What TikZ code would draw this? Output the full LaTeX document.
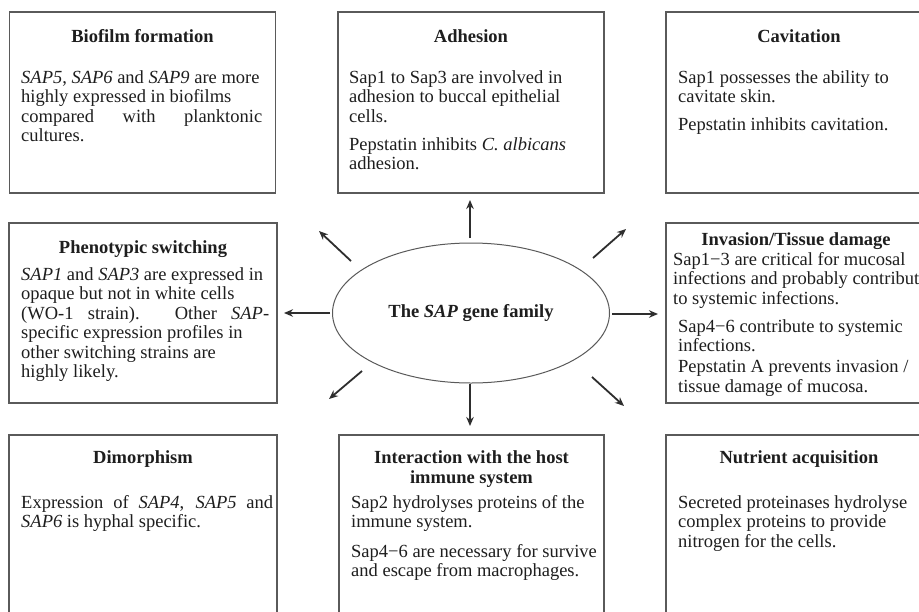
\documentclass[tikz,border=0pt]{standalone}
\usepackage{fontspec}
\setmainfont{Liberation Serif}
\usetikzlibrary{arrows.meta,shapes.geometric}
\definecolor{boxgray}{HTML}{5A5A5A}
\definecolor{arrgray}{HTML}{2E2E2E}
\definecolor{txt}{HTML}{1E1E1E}
\tikzset{
  box/.style={draw=boxgray, line width=1.6pt, rectangle, inner sep=0pt, minimum width=266pt, minimum height=181pt},
  ttl/.style={font=\fontsize{18.5}{19.5}\selectfont\bfseries, text=txt, anchor=base, inner sep=0pt},
  bodytxt/.style={font=\fontsize{18.5}{19.5}\selectfont, text=txt, anchor=north west, inner sep=0pt, align=left},
  arr/.style={-{Stealth[length=9pt,width=7.5pt]}, line width=1.8pt, draw=arrgray},
}
\begin{document}
\begin{tikzpicture}[x=1pt,y=-1pt]
\useasboundingbox (0,0) rectangle (919,611);
\clip (0,0) rectangle (919,611);
\fill[white] (0,0) rectangle (919,611);

% boxes
\node[box] (b1) at (142.5,102.5) {};
\node[box] (b2) at (471,102.5) {};
\node[box] (b3) at (799,102.5) {};
\node[box, minimum width=268pt, minimum height=180pt] (b4) at (143,313) {};
\node[box, minimum height=180pt] (b6) at (799,313) {};
\node[box, minimum width=268pt] (b7) at (143,525.5) {};
\node[box, minimum width=265pt] (b8) at (471.5,525.5) {};
\node[box] (b9) at (799,525.5) {};

% ellipse
\node[ellipse, draw=boxgray, line width=1pt, minimum width=277pt, minimum height=140pt, inner sep=0pt,
      font=\fontsize{18.5}{19.5}\selectfont\bfseries, text=txt] (ell) at (471,313) {The \textit{SAP} gene family};

% Biofilm
\node[ttl] (t1) at (142.5,42) {Biofilm formation};
\node[bodytxt] (x1) at (21,69.35) {\strut\textit{SAP5}, \textit{SAP6} and \textit{SAP9} are more\\
highly expressed in biofilms\\
\makebox[241pt][s]{compared with planktonic}\\
cultures.};

% Adhesion
\node[ttl] (t2) at (471,42) {Adhesion};
\node[bodytxt] (x2) at (349,69.35) {\strut Sap1 to Sap3 are involved in\\
adhesion to buccal epithelial\\
cells.\\[8.5pt]
Pepstatin inhibits \textit{C. albicans}\\
adhesion.};

% Cavitation
\node[ttl] (t3) at (799,42) {Cavitation};
\node[bodytxt] (x3) at (678,69.35) {\strut Sap1 possesses the ability to\\
cavitate skin.\\[8.5pt]
Pepstatin inhibits cavitation.};

% Phenotypic switching
\node[ttl] (t4) at (143,253) {Phenotypic switching};
\node[bodytxt] (x4) at (21,266.35) {\strut\textit{SAP1} and \textit{SAP3} are expressed in\\
opaque but not in white cells\\
\makebox[248pt][s]{(WO-1 strain). Other \textit{SAP}-}\\
specific expression profiles in\\
other switching strains are\\
highly likely.};

% Invasion
\node[ttl] (t6) at (796,245) {Invasion/Tissue damage};
\node[bodytxt] (x6a) at (673,251.35) {\strut Sap1−3 are critical for mucosal\\
infections and probably contribute\\
to systemic infections.};
\node[bodytxt] (x6b) at (678,318.35) {\strut Sap4−6 contribute to systemic\\
infections.\\[1.5pt]
Pepstatin A prevents invasion /\\
tissue damage of mucosa.};

% Dimorphism
\node[ttl] (t7) at (143,463) {Dimorphism};
\node[bodytxt] (x7) at (21,494.35) {\strut\makebox[252pt][s]{Expression of \textit{SAP4}, \textit{SAP5} and}\\
\textit{SAP6} is hyphal specific.};

% Interaction
\node[ttl] (t8a) at (471.5,463) {Interaction with the host};
\node[ttl] (t8b) at (471.5,483) {immune system};
\node[bodytxt] (x8) at (351,494.35) {\strut Sap2 hydrolyses proteins of the\\
immune system.\\[10pt]
Sap4−6 are necessary for survive\\
and escape from macrophages.};

% Nutrient
\node[ttl] (t9) at (799,463) {Nutrient acquisition};
\node[bodytxt] (x9) at (678,494.35) {\strut Secreted proteinases hydrolyse\\
complex proteins to provide\\
nitrogen for the cells.};

% arrows
\coordinate (uS) at (470,238); \coordinate (uE) at (470,200);
\coordinate (lS) at (330,313); \coordinate (lE) at (284,313);
\coordinate (rS) at (612,314); \coordinate (rE) at (658,314);
\coordinate (dS) at (470,384); \coordinate (dE) at (470,426);
\coordinate (ulS) at (351,261); \coordinate (ulE) at (319,231);
\coordinate (urS) at (593,258); \coordinate (urE) at (626,229);
\coordinate (llS) at (362,371); \coordinate (llE) at (329,399);
\coordinate (lrS) at (592,377); \coordinate (lrE) at (624,406);
\draw[arr] (uS) -- (uE);
\draw[arr] (lS) -- (lE);
\draw[arr] (rS) -- (rE);
\draw[arr] (dS) -- (dE);
\draw[arr] (ulS) -- (ulE);
\draw[arr] (urS) -- (urE);
\draw[arr] (llS) -- (llE);
\draw[arr] (lrS) -- (lrE);
\end{tikzpicture}
\end{document}
